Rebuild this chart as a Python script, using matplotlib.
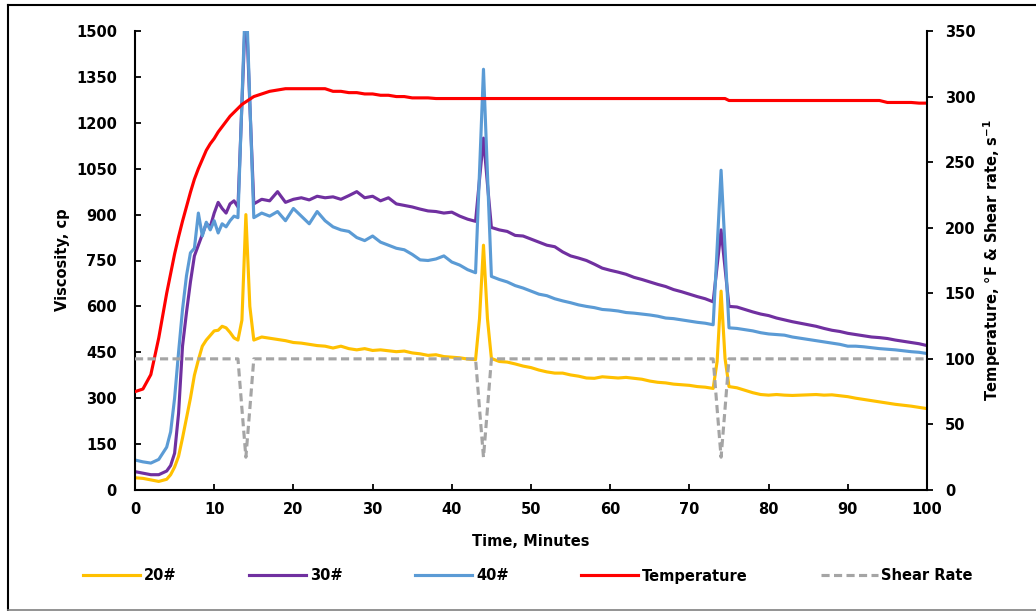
import numpy as np
import matplotlib
matplotlib.use('Agg')
import matplotlib.pyplot as plt
from matplotlib.lines import Line2D

# time grid, minutes (finer around rise and the three shear dips)
t = [0, 1, 2, 3, 4, 4.5, 5, 5.5, 6, 6.5, 7, 7.5, 8, 8.5, 9, 9.5, 10, 10.5, 11, 11.5,
     12, 12.5, 13, 13.5, 14, 14.5, 15, 16, 17, 18, 19, 20, 21, 22, 23, 24, 25, 26, 27,
     28, 29, 30, 31, 32, 33, 34, 35, 36, 37, 38, 39, 40, 41, 42, 43, 43.5, 44, 44.5, 45,
     46, 47, 48, 49, 50, 51, 52, 53, 54, 55, 56, 57, 58, 59, 60, 61, 62, 63, 64, 65, 66,
     67, 68, 69, 70, 71, 72, 73, 73.5, 74, 74.5, 75, 76, 77, 78, 79, 80, 81, 82, 83, 84,
     85, 86, 87, 88, 89, 90, 91, 92, 93, 94, 95, 96, 97, 98, 99, 100]

# viscosity, cp
visc_20 = [40, 38, 33, 28, 35, 50, 75, 110, 170, 235, 300, 375, 425, 470, 490, 505, 520, 522, 535, 530,
           515, 497, 490, 555, 900, 600, 490, 500, 496, 492, 488, 482, 480, 476, 472, 470, 464, 470, 462,
           458, 462, 456, 458, 455, 452, 454, 448, 445, 440, 442, 436, 434, 432, 428, 426, 560, 800, 560, 430,
           420, 418, 412, 405, 400, 392, 386, 382, 382, 376, 372, 366, 365, 370, 368, 366, 368, 365, 362, 356, 352,
           350, 346, 344, 342, 338, 336, 332, 420, 650, 430, 338, 334, 326, 318, 312, 310, 312, 310, 309, 310,
           311, 312, 310, 311, 308, 305, 300, 296, 292, 288, 284, 280, 277, 274, 270, 266]

visc_30 = [60, 55, 50, 50, 62, 80, 120, 250, 470, 580, 680, 765, 800, 835, 870, 860, 905, 940, 920, 905,
           935, 945, 925, 1260, 1600, 1260, 935, 950, 945, 975, 940, 950, 955, 948, 960, 955, 958, 950, 962,
           975, 955, 960, 945, 955, 935, 930, 925, 918, 912, 910, 905, 908, 895, 885, 878, 1015, 1150, 1000, 858,
           850, 845, 832, 830, 820, 810, 800, 795, 778, 765, 758, 750, 738, 725, 718, 712, 705, 695, 688, 680, 672,
           665, 655, 648, 640, 632, 625, 615, 732, 850, 725, 600, 598, 590, 582, 575, 570, 562, 556, 550, 545,
           540, 535, 528, 522, 518, 512, 508, 504, 500, 498, 495, 490, 486, 482, 478, 472]

visc_40 = [98, 92, 88, 100, 140, 190, 300, 450, 590, 700, 775, 790, 905, 830, 875, 850, 880, 840, 870, 860,
           880, 895, 890, 1270, 1650, 1270, 890, 905, 895, 910, 880, 920, 895, 870, 910, 880, 860, 850, 845,
           825, 815, 830, 810, 800, 790, 785, 770, 752, 750, 755, 765, 745, 735, 720, 710, 1040, 1375, 1035, 698,
           688, 680, 668, 660, 650, 640, 635, 625, 618, 612, 605, 600, 596, 590, 588, 585, 580, 578, 575, 572, 568,
           562, 560, 556, 552, 548, 545, 540, 790, 1045, 790, 530, 528, 524, 520, 514, 510, 508, 506, 500, 496,
           492, 488, 484, 480, 476, 470, 470, 468, 465, 462, 460, 458, 455, 452, 450, 446]

# temperature, F
temp = [75, 77, 88, 116, 150, 165, 180, 193, 205, 216, 227, 237, 245, 252, 259, 264, 268, 273, 277, 281,
        285, 288, 291, 294, 296, 298, 300, 302, 304, 305, 306, 306, 306, 306, 306, 306, 304, 304, 303,
        303, 302, 302, 301, 301, 300, 300, 299, 299, 299, 298.5, 298.5, 298.5, 298.5, 298.5, 298.5, 298.5, 298.5, 298.5, 298.5,
        298.5, 298.5, 298.5, 298.5, 298.5, 298.5, 298.5, 298.5, 298.5, 298.5, 298.5, 298.5, 298.5, 298.5, 298.5, 298.5, 298.5, 298.5, 298.5, 298.5, 298.5,
        298.5, 298.5, 298.5, 298.5, 298.5, 298.5, 298.5, 298.5, 298.5, 298.5, 297, 297, 297, 297, 297, 297, 297, 297, 297, 297,
        297, 297, 297, 297, 297, 297, 297, 297, 297, 297, 295.5, 295.5, 295.5, 295.5, 295, 295]

# shear rate, 1/s
shear = [100] * 23 + [62, 25, 62] + [100] * 29 + [62, 25, 62] + [100] * 29 + [62, 25, 62] + [100] * 26

plt.rcParams['font.family'] = ['DejaVu Sans']
plt.rcParams['font.weight'] = 'bold'
plt.rcParams['font.size'] = 10.5

fig = plt.figure(figsize=(10.36, 6.11), dpi=100)
ax = fig.add_axes([135 / 1036, 1 - 490 / 611, 792 / 1036, 459 / 611])
ax2 = ax.twinx()

lw = 2.25
l20, = ax.plot(t, visc_20, color='#FFC000', lw=lw, label='20#')
l30, = ax.plot(t, visc_30, color='#7030A0', lw=lw, label='30#')
l40, = ax.plot(t, visc_40, color='#5B9BD5', lw=lw, label='40#')
lt, = ax2.plot(t, temp, color='#FF0000', lw=lw, label='Temperature')
ls, = ax2.plot(t, shear, color='#A5A5A5', lw=lw, dashes=[2.6, 1.4], label='Shear Rate')

ax.set_xlim(0, 100)
ax.set_ylim(0, 1500)
ax2.set_ylim(0, 350)
ax.set_xticks(np.arange(0, 101, 10))
ax.set_yticks(np.arange(0, 1501, 150))
ax2.set_yticks(np.arange(0, 351, 50))

for a in (ax, ax2):
    a.spines['top'].set_visible(False)
    for s in a.spines.values():
        s.set_linewidth(1.5)
ax.spines['right'].set_visible(False)
ax2.spines['left'].set_visible(False)
ax2.spines['bottom'].set_visible(False)

ax.tick_params(axis='x', direction='in', length=4.3, width=1.3, pad=9)
ax.tick_params(axis='y', direction='in', length=4.3, width=1.3, pad=13)
ax2.tick_params(axis='y', direction='out', length=4.3, width=1.3, pad=8.5)

fig.text(62 / 1036, 1 - 260 / 611, 'Viscosity, cp', rotation=90, ha='center', va='center')
fig.text(992 / 1036, 1 - 260 / 611, r'Temperature, °F & Shear rate, s$^{\mathbf{-1}}$',
         rotation=90, ha='center', va='center')
fig.text(531 / 1036, 1 - 541 / 611, 'Time, Minutes', ha='center', va='center')

fig.legend(handles=[l20, l30, l40, lt, ls], loc='center', bbox_to_anchor=(528 / 1036, 1 - 576 / 611),
           ncol=5, frameon=False, handlelength=3.9, handletextpad=0.25, columnspacing=5.0)

# outer frame of the chart area
fig.add_artist(Line2D([8 / 1036, 8 / 1036], [0, 1 - 5 / 611], color='black', lw=1.5))
fig.add_artist(Line2D([8 / 1036, 1], [1 - 5 / 611, 1 - 5 / 611], color='black', lw=1.5))
fig.add_artist(Line2D([8 / 1036, 1], [1 / 611, 1 / 611], color='#808080', lw=1.2))

fig.savefig('out.png', dpi=100)
